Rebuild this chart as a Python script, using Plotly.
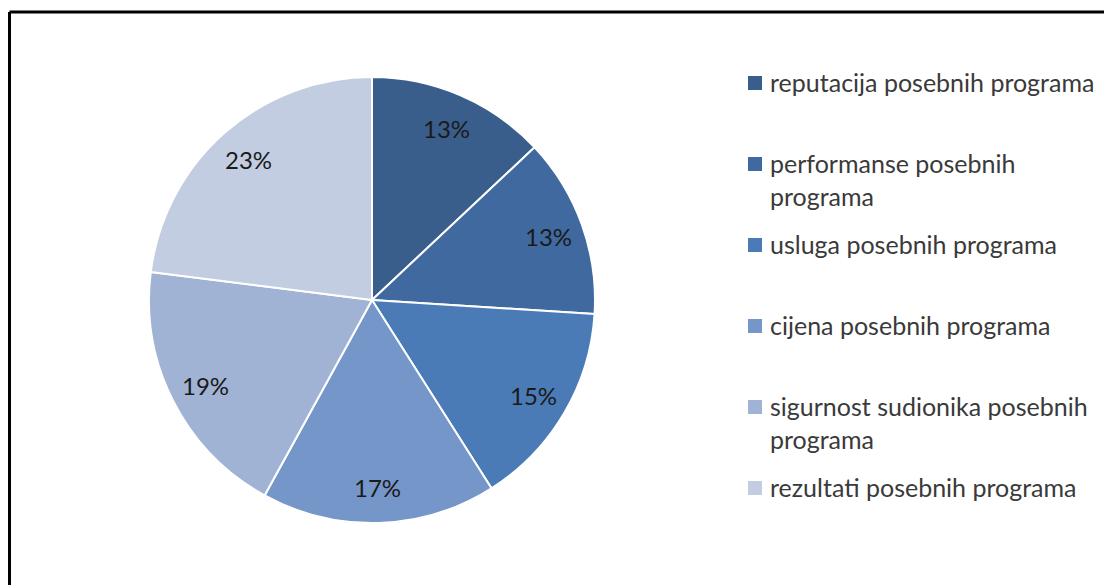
import math
import plotly.graph_objects as go

# the page body has an 8px margin, so the figure is shifted by 8px;
# all positions below are in reference-picture pixels and converted
OFF = 8
W, H = 1112 - OFF, 585 - OFF

# data
labels = [
    "reputacija posebnih programa",
    "performanse posebnih<br>programa",
    "usluga posebnih programa",
    "cijena posebnih programa",
    "sigurnost sudionika posebnih<br>programa",
    "rezultati posebnih programa",
]
values = [13, 13, 15, 17, 19, 23]
colors = ["#3A5E8C", "#40699F", "#4A7BB7", "#7596C8", "#A1B3D5", "#C3CDE2"]

FONT = "Lato"


def px_x(x):
    return (x - OFF) / W


def px_y(y):
    return 1 - (y - OFF) / H


# pie placement (reference pixels)
cx, cy, r = 372, 300, 223

fig = go.Figure(
    go.Pie(
        labels=labels,
        values=values,
        sort=False,
        direction="clockwise",
        rotation=0,
        marker=dict(colors=colors, line=dict(color="white", width=2)),
        textinfo="none",
        hoverinfo="label+percent",
        showlegend=False,
        domain=dict(x=[px_x(cx - r), px_x(cx + r)], y=[px_y(cy + r), px_y(cy - r)]),
    )
)

# percentage labels at ~0.84 of the radius, at each slice's mid angle
total = sum(values)
cum = 0
for v in values:
    mid = (cum + v / 2) / total * 2 * math.pi
    cum += v
    lx = cx + 0.84 * r * math.sin(mid)
    ly = cy - 0.84 * r * math.cos(mid)
    fig.add_annotation(
        x=px_x(lx), y=px_y(ly), xref="paper", yref="paper",
        xanchor="center", yanchor="middle",
        text=f"{round(v / total * 100)}%", showarrow=False,
        font=dict(family=FONT, size=24, color="#1a1a1a"),
    )

# legend on the right, evenly spaced like the original
leg_x, leg_y0, leg_step = 755, 83, 81
for i, (lab, col) in enumerate(zip(labels, colors)):
    y = leg_y0 + i * leg_step
    fig.add_shape(
        type="rect", xref="paper", yref="paper",
        x0=px_x(leg_x - 7), x1=px_x(leg_x + 7),
        y0=px_y(y + 7), y1=px_y(y - 7),
        fillcolor=col, line=dict(width=0),
    )
    fig.add_annotation(
        x=px_x(leg_x + 13), y=px_y(y - 18),
        xref="paper", yref="paper",
        xanchor="left", yanchor="top",
        text=lab, showarrow=False, align="left",
        font=dict(family=FONT, size=25, color="#3a3a3a"),
    )

# chart frame (only top and left edges are visible)
fig.add_shape(type="line", xref="paper", yref="paper",
              x0=px_x(9.5), x1=1.01, y0=px_y(12), y1=px_y(12),
              line=dict(color="black", width=3))
fig.add_shape(type="line", xref="paper", yref="paper",
              x0=px_x(9.5), x1=px_x(9.5), y0=-0.01, y1=px_y(12),
              line=dict(color="black", width=3))

fig.update_layout(
    width=W,
    height=H,
    margin=dict(l=0, r=0, t=0, b=0),
    paper_bgcolor="white",
    plot_bgcolor="white",
)

fig.write_html("out.html")
